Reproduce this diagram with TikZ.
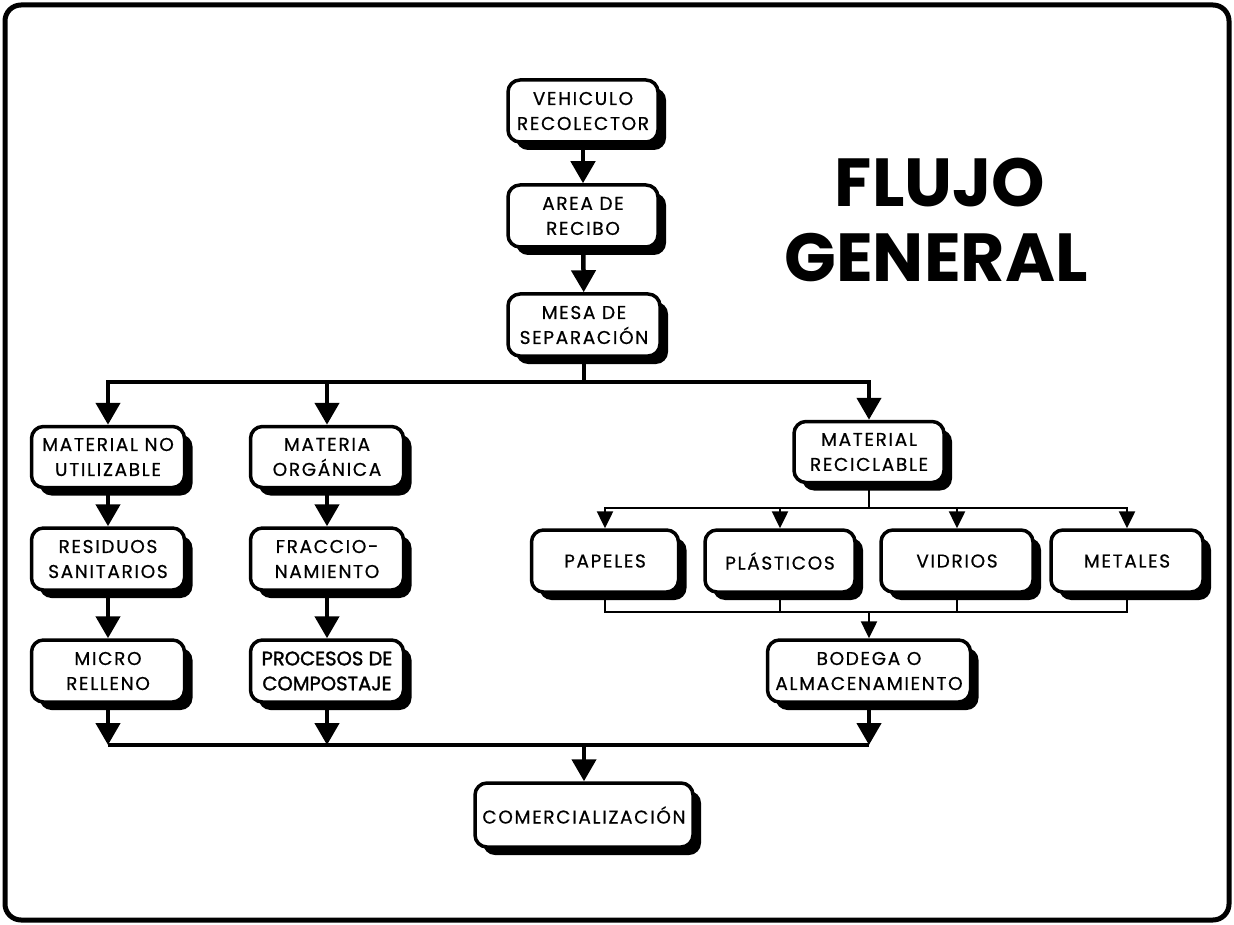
\documentclass[tikz,border=0pt]{standalone}
\usepackage{fontspec}
\setmainfont{Poppins}
\newfontfamily\boxfam{Poppins}[FakeBold=0.6, LetterSpace=9]
\newfontfamily\procfont{Poppins}[FakeBold=1.6]
\usetikzlibrary{arrows.meta,shadows}
\newcommand{\boxfont}{\boxfam\fontsize{18.5}{25}\selectfont}
\tikzset{
  box/.style={draw, line width=3.5pt, rounded corners=12pt, fill=white,
    minimum height=62pt, align=center, font=\boxfont, inner sep=2pt,
    drop shadow={shadow xshift=8pt, shadow yshift=-8pt, fill=black, opacity=1}},
  thickline/.style={line width=4.5pt},
  thinline/.style={line width=2.5pt},
  arr/.style={-{Triangle[width=24pt,length=22pt]}},
  sarr/.style={-{Triangle[width=16pt,length=17pt]}},
  titlefont/.style={font=\fontsize{68}{68}\selectfont\bfseries}
}
\begin{document}
\begin{tikzpicture}[x=1pt,y=-1pt]
\useasboundingbox (0,0) rectangle (1234,925);
\draw[line width=5pt, rounded corners=16pt] (5,5) rectangle (1229,920);

\node[titlefont, anchor=base] (t1) at (940,207) {FLUJO};
\node[titlefont, anchor=base] (t2) at (936,282) {GENERAL};

\node[box, minimum width=150pt] (veh) at (583,111) {VEHICULO\\RECOLECTOR};
\node[box, minimum width=150pt] (area) at (583,216) {AREA DE\\RECIBO};
\node[box, minimum width=152pt] (mesa) at (584,325) {MESA DE\\SEPARACIÓN};

\node[box, minimum width=153pt, minimum height=61pt] (mnu) at (108,457) {MATERIAL NO\\UTILIZABLE};
\node[box, minimum width=153pt] (res) at (108,559) {RESIDUOS\\SANITARIOS};
\node[box, minimum width=153pt] (mic) at (108,671) {MICRO\\RELLENO};

\node[box, minimum width=153pt, minimum height=61pt] (mor) at (327,457) {MATERIA\\ORGÁNICA};
\node[box, minimum width=153pt] (fra) at (327,559) {FRACCIO-\\NAMIENTO};
\node[box, minimum width=153pt, font=\procfont\fontsize{19.5}{25}\selectfont] (pro) at (327,671) {PROCESOS DE\\COMPOSTAJE};

\node[box, minimum width=150pt, minimum height=61pt] (rec) at (869,452) {MATERIAL\\RECICLABLE};
\node[box, minimum width=147pt] (pap) at (605,561) {PAPELES};
\node[box, minimum width=150pt] (pla) at (780,561) {PLÁSTICOS};
\node[box, minimum width=152pt] (vid) at (957,561) {VIDRIOS};
\node[box, minimum width=152pt] (met) at (1127,561) {METALES};
\node[box, minimum width=203pt] (bod) at (869,671) {BODEGA O\\ALMACENAMIENTO};

\node[box, minimum width=218pt, minimum height=64pt] (com) at (584,815) {COMERCIALIZACIÓN};

\coordinate (tl) at (0,382);
\coordinate (rb) at (0,508);
\coordinate (jb) at (0,612);
\coordinate (bl) at (0,745);

% main spine
\draw[thickline, arr] (veh) -- (area);
\draw[thickline, arr] (area) -- (mesa);
\draw[thickline, arr] (mesa.south) -- (mesa.south |- tl) -| (mnu.north);
\draw[thickline, arr] (mesa.south |- tl) -| (rec.north);
\draw[thickline, arr] (mor.north |- tl) -- (mor.north);

% left columns
\draw[thickline, arr] (mnu) -- (res);
\draw[thickline, arr] (res) -- (mic);
\draw[thickline, arr] (mor) -- (fra);
\draw[thickline, arr] (fra) -- (pro);

% recyclables
\draw[thinline, sarr] (rec.south) -- (rec.south |- rb) -| (pap.north);
\draw[thinline, sarr] (rec.south |- rb) -| (met.north);
\draw[thinline, sarr] (pla.north |- rb) -- (pla.north);
\draw[thinline, sarr] (vid.north |- rb) -- (vid.north);
\draw[thinline] (pap.south) -- (pap.south |- jb) -- (met.south |- jb) -- (met.south);
\draw[thinline] (pla.south) -- (pla.south |- jb);
\draw[thinline] (vid.south) -- (vid.south |- jb);
\draw[thinline, sarr] (bod.north |- jb) -- (bod.north);

% bottom collector
\draw[thickline] (mic.south |- bl) -- (bod.south |- bl);
\draw[thickline, arr] (mic.south) -- (mic.south |- bl);
\draw[thickline, arr] (pro.south) -- (pro.south |- bl);
\draw[thickline, arr] (bod.south) -- (bod.south |- bl);
\draw[thickline, arr] (com.north |- bl) -- (com.north);
\end{tikzpicture}
\end{document}
